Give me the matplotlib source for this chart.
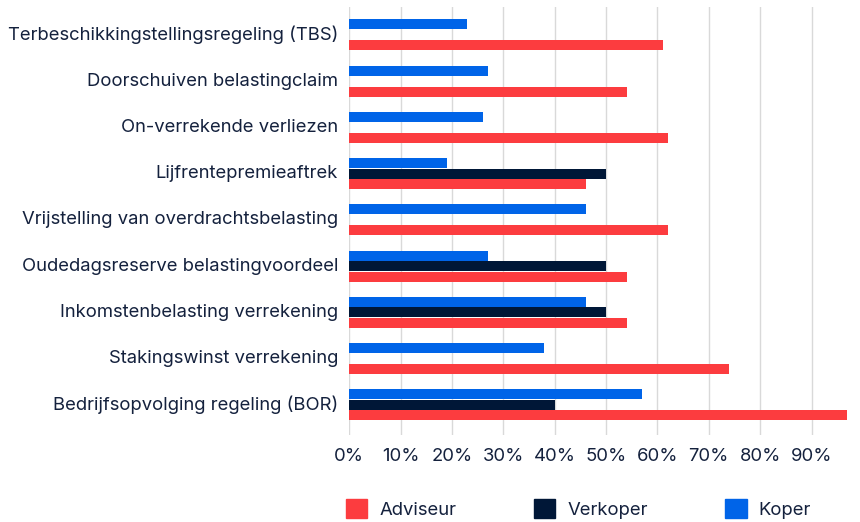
import numpy as np
import matplotlib.pyplot as plt
import matplotlib.transforms as mtransforms
from matplotlib.patches import Patch

# data (percent)
categories = ['Terbeschikkingstellingsregeling (TBS)',
              'Doorschuiven belastingclaim',
              'On-verrekende verliezen',
              'Lijfrentepremieaftrek',
              'Vrijstelling van overdrachtsbelasting',
              'Oudedagsreserve belastingvoordeel',
              'Inkomstenbelasting verrekening',
              'Stakingswinst verrekening',
              'Bedrijfsopvolging regeling (BOR)']
koper = [23, 27, 26, 19, 46, 27, 46, 38, 57]
verkoper = [0, 0, 0, 50, 0, 50, 50, 0, 40]
adviseur = [61, 54, 62, 46, 62, 54, 54, 74, 97]
xticks = [0, 10, 20, 30, 40, 50, 60, 70, 80, 90]

red = '#fc3c3f'
navy = '#001737'
blue = '#0064e8'
textcol = '#14213d'

plt.rcParams['font.family'] = ['Inter', 'DejaVu Sans']

fig = plt.figure(figsize=(8.6, 5.22), dpi=100)
ax = fig.add_axes([349.3 / 860, 1 - 435 / 522, (849 - 349.3) / 860, (435 - 7) / 522])

y = np.arange(len(categories))
h = 0.216
off = 0.227
ax.barh(y - off, koper, height=h, color=blue, zorder=3)
ax.barh(y, verkoper, height=h, color=navy, zorder=3)
ax.barh(y + off, adviseur, height=h, color=red, zorder=3)

ax.set_xlim(0, 97.3)
ax.set_ylim(len(categories) - 1 + 0.65, -0.6)
ax.set_xticks(xticks)
ax.set_xticklabels([f'{t}%' for t in xticks])
ax.set_yticks(y)
ax.set_yticklabels(categories)
ax.tick_params(axis='both', length=0, labelsize=13.3, labelcolor=textcol)
ax.tick_params(axis='x', pad=9.4)
ax.tick_params(axis='y', pad=8)
ax.grid(axis='x', color='#d9d9d9', linewidth=1, zorder=0)
for s in ax.spines.values():
    s.set_visible(False)

# nudge category labels up a little, like the reference
shift = mtransforms.ScaledTranslation(0, 2 / 100, fig.dpi_scale_trans)
for lab in ax.get_yticklabels():
    lab.set_transform(lab.get_transform() + shift)

handles = [Patch(color=red, label='Adviseur'),
           Patch(color=navy, label='Verkoper'),
           Patch(color=blue, label='Koper')]
leg = fig.legend(handles=handles, loc='center left', bbox_to_anchor=(329.5 / 860, 1 - 509 / 522),
                 ncol=3, frameon=False, fontsize=13.3, handlelength=1.15, handleheight=1.15,
                 handletextpad=0.65, columnspacing=4.2, labelcolor=textcol)

fig.savefig('out.png', dpi=100)
